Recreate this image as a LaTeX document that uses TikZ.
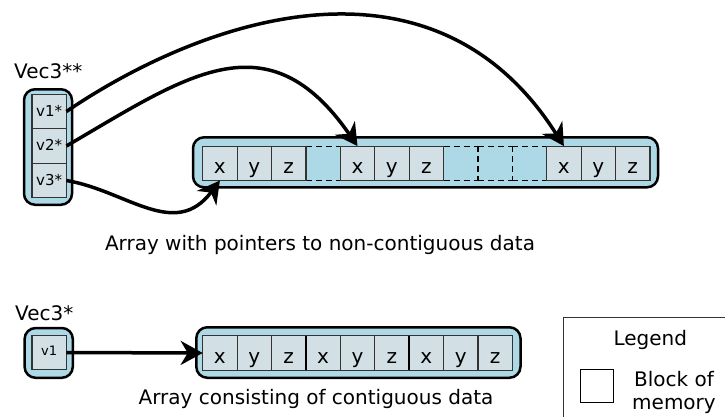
\documentclass[tikz,border=0pt]{standalone}
\usepackage{fontspec}
\setmainfont{DejaVu Sans}
\usetikzlibrary{arrows.meta}

\definecolor{boxblue}{RGB}{173,216,230}
\definecolor{cellgray}{RGB}{210,224,230}

\tikzset{
  container/.style={draw=black, line width=2.5pt, fill=boxblue, rounded corners=11pt, inner sep=0pt},
  cell/.style={draw=black!80, line width=1.2pt, fill=cellgray, minimum size=34.4pt, inner sep=0pt, outer sep=0pt,
    font=\fontsize{20}{23}\selectfont, text height=21pt, text depth=0pt},
  gap/.style={minimum size=34.4pt, inner sep=0pt, outer sep=0pt},
  gapline/.style={draw=black, line width=1.2pt, dash pattern=on 6pt off 4pt},
  ptr/.style={cell, font=\fontsize{15}{18}\selectfont, text height=9pt},
  link/.style={line width=3.5pt, -{Stealth[length=22pt, width=24pt, inset=7pt]}},
  label/.style={font=\fontsize{20}{23}\selectfont, inner sep=0pt},
}

\begin{document}
\begin{tikzpicture}[x=1pt, y=-1pt]
  \useasboundingbox (0,0) rectangle (725,416);

  % Vec3** : three pointers
  \node[container, minimum width=48pt, minimum height=115.5pt] (vecs) at (48,147) {};
  \foreach \n/\y in {1/111.5, 2/146, 3/180.5}
    \node[ptr] (v\n) at (49.2,\y) {v\n*};
  \node[label, anchor=base west] (vecslabel) at (14,78.3) {Vec3**};

  % scattered array, the gaps only get dashed edges
  \node[container, minimum width=465pt, minimum height=50pt] (scattered) at (425.5,162.3) {};
  \foreach \i in {3,7,8,9} {
    \node[gap] (a\i) at ({219.9+34.4*\i},163.3) {};
    \draw[gapline] (a\i.north west) -- (a\i.north east);
    \draw[gapline] (a\i.south west) -- (a\i.south east);
  }
  \foreach \i in {7,8}
    \draw[gapline] (a\i.north east) -- (a\i.south east);
  \foreach \i/\t in {0/x,1/y,2/z,4/x,5/y,6/z,10/x,11/y,12/z}
    \node[cell] (a\i) at ({219.9+34.4*\i},163.3) {\t};
  \node[label, anchor=base] (toptext) at (320,250) {Array with pointers to non-contiguous data};

  \draw[link] (v1.east) .. controls +(140,-95) and +(-130,-205) .. (a10.north);
  \draw[link] (v2.east) .. controls +(120,-70) and +(-90,-130) .. (a4.north);
  \draw[link] (v3.east) .. controls +(60,10) and +(-45,60) .. (a0.south);

  % Vec3* : one pointer
  \node[container, minimum width=48.2pt, minimum height=49.8pt] (vec) at (48.7,352.9) {};
  \node[ptr, font=\fontsize{13}{15}\selectfont, text height=5pt] (p1) at (49.2,352.5) {v1};
  \node[label, anchor=base west] (veclabel) at (15,320) {Vec3*};

  % contiguous array
  \node[container, minimum width=324.2pt, minimum height=50.5pt] (packed) at (358.4,352.5) {};
  \foreach \i/\t in {0/x,1/y,2/z,3/x,4/y,5/z,6/x,7/y,8/z}
    \node[cell] (b\i) at ({219.9+34.4*\i},353) {\t};
  \foreach \i in {2,5}
    \draw[line width=2.5pt] (b\i.north east) -- (b\i.south east);
  \draw[link] (p1.east) -- (b0.west);
  \node[label, anchor=base] (bottext) at (316,404) {Array consisting of contiguous data};

  % legend
  \begin{scope}
    \clip (0,0) rectangle (725,416);
    \node[draw=black!80, line width=1pt, minimum width=200pt, minimum height=140pt, inner sep=0pt,
      anchor=north west] (legend) at (563,317) {};
  \end{scope}
  \node[label, anchor=base] (legendtitle) at (650.3,345) {Legend};
  \node[draw, line width=1pt, fill=white, minimum size=33pt, inner sep=0pt] (block) at (597.3,385.8) {};
  \node[label, anchor=base, align=center] (blocktext) at (674,409) {Block of\\memory};
\end{tikzpicture}
\end{document}
